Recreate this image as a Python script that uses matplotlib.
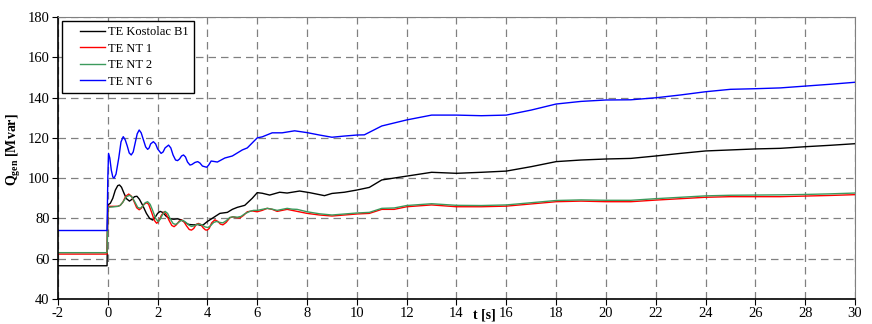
import matplotlib
matplotlib.use("Agg")
import matplotlib.pyplot as plt
from matplotlib.transforms import blended_transform_factory
from matplotlib.legend_handler import HandlerLine2D

plt.rcParams['font.family'] = ['Liberation Serif', 'DejaVu Serif']
plt.rcParams['mathtext.fontset'] = 'custom'
plt.rcParams['mathtext.rm'] = 'Liberation Serif'
plt.rcParams['mathtext.bf'] = 'Liberation Serif:bold'
plt.rcParams['axes.unicode_minus'] = False

# vrednosti ocitane sa slike
tail_t = [20, 21, 22, 23, 24, 25, 26, 27, 28, 29, 30]

t_nt6 = [-2, -0.1, -0.03, 0.0, 0.03, 0.08, 0.14, 0.2, 0.25, 0.33, 0.44, 0.53, 0.62,
         0.7, 0.78, 0.86, 0.94, 1.02, 1.1, 1.18, 1.26, 1.34, 1.43, 1.52, 1.6, 1.66,
         1.72, 1.83, 1.92, 2.0, 2.14, 2.22, 2.3, 2.44, 2.53, 2.62, 2.72, 2.8, 2.88,
         2.96, 3.04, 3.12, 3.2, 3.3, 3.38, 3.5, 3.61, 3.7, 3.8, 3.97, 4.05, 4.15,
         4.4, 4.7, 5.0, 5.4, 5.6, 5.8, 6.0, 6.2, 6.6, 7.0, 7.5, 8, 8.5, 9, 9.5, 10,
         10.3, 11, 12, 13, 14, 15, 16, 17, 18, 19] + tail_t
q_nt6 = [74, 74, 74, 100, 112.3, 110, 104, 100.6, 100, 102, 110, 118, 120.6,
         119, 116, 112.5, 111.5, 113, 117.5, 122, 123.9, 122.5, 119, 115.5, 114.3, 115,
         117, 118.1, 117, 114.5, 112.3, 113, 115, 116.4, 115, 111.5, 109, 108.7, 109.5,
         111, 111.5, 110.5, 108, 106.5, 106.8, 107.8, 108.2, 107.5, 106, 105.4, 106.5, 108.5,
         108, 110, 111, 114, 115, 117.5, 120, 120.5, 122.5, 122.5, 123.5, 122.6, 121.4,
         120.3, 120.9, 121.4,
         121.5, 125.9, 128.9, 131.3, 131.3, 131, 131.3, 133.8, 136.8, 138.1,
         138.8, 138.9, 139.9, 141.3, 142.9, 144.1, 144.4, 144.8, 145.7, 146.6, 147.6]

t_b1 = [-2, -0.1, -0.03, 0.0, 0.1, 0.2, 0.3, 0.4, 0.47, 0.55, 0.65, 0.75, 0.87,
        0.97, 1.07, 1.17, 1.27, 1.4, 1.55, 1.68, 1.8, 1.9, 2.0, 2.1, 2.2, 2.35,
        2.5, 2.65, 2.8, 2.95, 3.1, 3.25, 3.45, 3.6, 3.75, 3.85, 4.0, 4.25, 4.5,
        4.8, 5.0, 5.2, 5.5, 5.8, 6.0, 6.2, 6.5, 6.9, 7.2, 7.7, 8.1, 8.7, 9.0, 9.5,
        10, 10.5, 11, 12, 13, 14, 15, 16, 17, 18, 19] + tail_t
q_b1 = [56.5, 56.5, 56.5, 86.7, 87.5, 90, 94, 96.3, 96.6, 95.5, 92.5, 89.8, 88.6,
        89.5, 90.8, 91, 89.5, 86.5, 82.5, 80, 79.2, 80.5, 82.5, 83.5, 83, 81,
        79.8, 79.6, 79.8, 79.3, 78, 77, 76.8, 77, 76.5, 77, 78.5, 80.5, 82.5,
        83, 84.5, 85.5, 86.5, 90, 92.8, 92.5, 91.6, 93, 92.6, 93.6, 92.8, 91.3, 92.4, 93,
        94.1, 95.4, 99.1, 101, 102.9, 102.4, 102.9, 103.5, 105.7, 108.2, 109,
        109.5, 109.8, 111, 112.3, 113.5, 114, 114.5, 114.8, 115.6, 116.3, 117.1]

t_nt1 = [-2, -0.1, -0.03, 0.0, 0.2, 0.4, 0.5, 0.6, 0.72, 0.84, 0.95, 1.05, 1.16,
         1.26, 1.34, 1.45, 1.56, 1.64, 1.76, 1.87, 1.96, 2.04, 2.15, 2.26, 2.35,
         2.46, 2.57, 2.66, 2.75, 2.87, 2.96, 3.05, 3.16, 3.27, 3.36, 3.45, 3.55,
         3.64, 3.73, 3.83, 3.92, 3.99, 4.07, 4.17, 4.3, 4.42, 4.52, 4.62, 4.75, 4.9,
         5.02, 5.15, 5.3, 5.45, 5.6, 5.8, 6.0, 6.2, 6.4, 6.6, 6.8, 7.0, 7.2, 7.4,
         7.6, 8, 8.5, 9, 10, 10.5, 11, 11.5, 12, 13, 14, 15, 16, 17, 18, 19] + tail_t
q_nt1 = [62.3, 62.3, 62.3, 86, 86, 86, 86.5, 88, 91, 92.1, 91, 88.5, 85.3,
         84.3, 85, 87, 87.8, 87, 83, 79, 77.6, 78.5, 81.5, 83.3, 82,
         79, 76.5, 75.9, 76.8, 78.7, 79.2, 78.5, 76.3, 74.5, 74.2, 75, 77,
         77.5, 77, 75.3, 74.3, 74.2, 75, 77.8, 79.3, 78.5, 77.2, 76.8, 78, 80.3,
         80.8, 80.4, 80.2, 81.5, 83.3, 83.7, 83.3, 84, 85, 84.5, 83.5, 84, 84.5, 84,
         83.5, 82.5, 81.7, 81.2, 82.2, 82.5, 84.5, 84.5, 85.8, 86.7, 85.8, 85.8, 86.1,
         87.2, 88.3, 88.6,
         88.3, 88.3, 89.1, 89.8, 90.5, 90.8, 90.8, 90.8, 91.1, 91.4, 91.8]

t_nt2 = [-2, -0.1, -0.03, 0.0, 0.2, 0.4, 0.5, 0.6, 0.75, 0.88, 0.98, 1.08, 1.2,
         1.3, 1.4, 1.5, 1.6, 1.7, 1.8, 1.92, 2.02, 2.1, 2.2, 2.3, 2.4, 2.52, 2.62,
         2.72, 2.82, 2.92, 3.02, 3.12, 3.24, 3.36, 3.46, 3.57, 3.68, 3.78, 3.9,
         4.02, 4.12, 4.25, 4.37, 4.5, 4.62, 4.75, 4.9, 5.05, 5.2, 5.35, 5.5, 5.7,
         5.85, 6.0, 6.2, 6.4, 6.6, 6.8, 7.0, 7.2, 7.4, 7.6, 8, 8.5, 9, 10, 10.5, 11,
         11.5, 12, 13, 14, 15, 16, 17, 18, 19] + tail_t
q_nt2 = [63, 63, 63, 85.5, 85.7, 86, 86.5, 88, 90.8, 91.5, 90.5, 88.3, 85.5,
         85, 86, 87.8, 88.3, 87, 84, 80, 78.5, 79.5, 82, 83.5, 82.5, 79.5, 77.5,
         77, 77.8, 78.8, 79, 78.2, 76.8, 76, 76.3, 77, 77.2, 76.8, 75.8,
         75.5, 76.3, 78, 78.5, 78, 77.8, 78.8, 80.5, 80.8, 80.6, 81, 82.3, 83.5,
         84, 84, 84.5, 85, 84.6, 84, 84.5, 85, 84.6, 84.5, 83.3, 82.3, 81.7, 82.7, 83, 85,
         85.2, 86.4, 87.3, 86.5, 86.4, 86.7, 87.8, 88.9, 89.2,
         89, 89, 89.8, 90.5, 91.2, 91.5, 91.6, 91.7, 91.9, 92.2, 92.6]

x_ticks = list(range(-2, 31, 2))
y_ticks = list(range(40, 181, 20))

fig = plt.figure(figsize=(8.72, 3.24), dpi=100)
ax = fig.add_axes([0.0665, 0.0772, 0.914, 0.8703])

ax.plot(t_b1, q_b1, color="black", lw=1.0, label="TE Kostolac B1")
ax.plot(t_nt1, q_nt1, color="#ff0000", lw=1.0, label="TE NT 1")
ax.plot(t_nt2, q_nt2, color="#3c9a5c", lw=1.0, label="TE NT 2")
ax.plot(t_nt6, q_nt6, color="#0000ff", lw=1.0, label="TE NT 6")

ax.set_xlim(-2, 30)
ax.set_ylim(40, 180)
ax.set_xticks(x_ticks)
ax.set_yticks(y_ticks)
ax.tick_params(labelsize=10.5, length=4, direction="out", pad=2)
ax.grid(True, color="#808080", linestyle=(0, (6, 4)), linewidth=0.9)
for s in ["top", "right"]:
    ax.spines[s].set_color("#808080")
for s in ["left", "bottom"]:
    ax.spines[s].set_linewidth(1.2)

ax.set_ylabel(r"$\mathbf{Q}_{\mathbf{gen}}$ [Mvar]", fontsize=10, fontweight="bold")
ax.yaxis.set_label_coords(-0.044, 0.53)
tr = blended_transform_factory(ax.transData, ax.transAxes)
ax.text(15.1, -0.035, "t [s]", transform=tr, ha="center", va="top",
        fontsize=10, fontweight="bold")

leg = ax.legend(loc="upper left", fontsize=9, frameon=True, fancybox=False,
                edgecolor="black", framealpha=1, borderaxespad=0.35,
                handlelength=3.0, handletextpad=0.25, labelspacing=0.35, borderpad=0.4,
                handler_map={plt.Line2D: HandlerLine2D(xpad=1.0)})
leg.get_frame().set_linewidth(1.0)

fig.savefig("out.png", dpi=100)
